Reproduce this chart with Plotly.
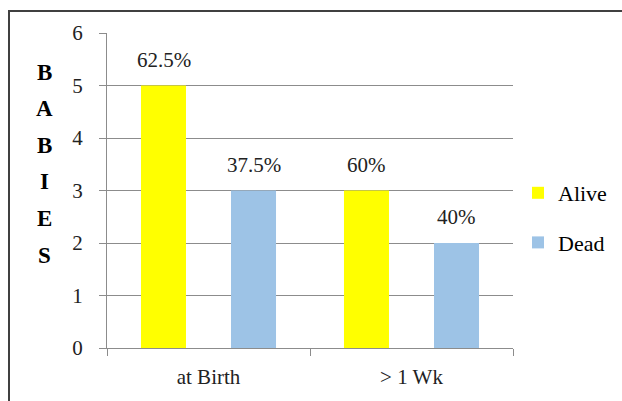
import plotly.graph_objects as go

categories = ["at Birth", "> 1 Wk"]
alive = [5, 3]
dead = [3, 2]
alive_labels = ["62.5%", "60%"]
dead_labels = ["37.5%", "40%"]
y_title = "BABIES"

W, H = 622, 401
L, R, T, B = 107, 109, 33, 53
PW, PH = W - L - R, H - T - B
font = "Liberation Serif, Times New Roman, serif"


def px_x(x):
    return (x - L) / PW


def px_y(y):
    return 1 - (y - T) / PH


fig = go.Figure()
fig.add_trace(go.Bar(name="Alive", x=categories, y=alive, marker_color="#FFFF00",
                     marker_line_width=0, legendgroup="a"))
fig.add_trace(go.Bar(name="Dead", x=categories, y=dead, marker_color="#9DC3E6",
                     marker_line_width=0, legendgroup="b"))

annotations = []
for i, c in enumerate(categories):
    for val, lab, sh in ((alive[i], alive_labels[i], -45), (dead[i], dead_labels[i], 45)):
        annotations.append(dict(x=c, y=val, xref="x", yref="y", text=lab, showarrow=False,
                                xshift=sh, yshift=12, yanchor="bottom",
                                font=dict(family=font, size=21, color="#222222")))

# vertical stacked axis title
letter_top = 72
letter_step = 36.6
for k, ch in enumerate(y_title):
    ypx = letter_top + k * letter_step
    annotations.append(dict(x=px_x(44), y=px_y(ypx), xref="paper", yref="paper",
                            text="<b>%s</b>" % ch, showarrow=False, xanchor="center", yanchor="middle",
                            font=dict(family=font, size=23, color="#000000")))

fig.update_layout(
    width=W, height=H,
    margin=dict(l=L, r=R, t=T, b=B, autoexpand=False),
    paper_bgcolor="white", plot_bgcolor="white",
    barmode="group", bargap=0.113, bargroupgap=0.5,
    font=dict(family=font, size=21, color="#222222"),
    showlegend=True,
    legend=dict(x=px_x(518), y=px_y(218), xanchor="left", yanchor="middle", traceorder="grouped",
                tracegroupgap=18, font=dict(family=font, size=22, color="#000000"),
                itemwidth=30, bgcolor="rgba(0,0,0,0)"),
    annotations=annotations,
    shapes=[dict(type="rect", xref="paper", yref="paper",
                 x0=px_x(9), x1=px_x(700),
                 y0=px_y(460), y1=px_y(11),
                 line=dict(color="#404040", width=2), layer="below")],
)
fig.update_yaxes(range=[0, 6], dtick=1, showgrid=True, gridcolor="#8c8c8c", gridwidth=1,
                 showline=True, linecolor="#8c8c8c", linewidth=1,
                 ticks="outside", ticklen=7, tickcolor="#8c8c8c", ticklabelstandoff=12,
                 tickfont=dict(family=font, size=21, color="#222222"), zeroline=False)
fig.update_xaxes(showline=True, linecolor="#8c8c8c", linewidth=1,
                 ticks="outside", ticklen=7, tickcolor="#8c8c8c", tickson="boundaries",
                 ticklabelstandoff=10,
                 tickfont=dict(family=font, size=21, color="#222222"))

fig.write_html("out.html", config={"displayModeBar": False},
               post_script="document.body.style.margin='0';document.body.style.overflow='hidden';")
